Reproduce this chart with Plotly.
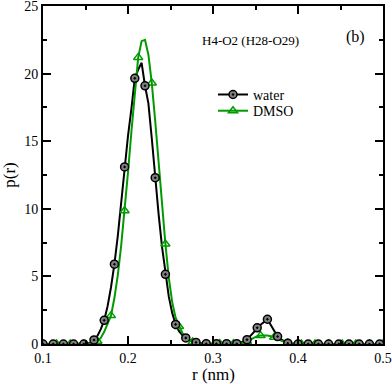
import numpy as np
import plotly.graph_objects as go

# r grid (nm), 0.004 step from 0.1 to 0.5
r = np.round(np.arange(101) * 0.004 + 0.1, 3)

# p(r) for water
water = np.array(
    [0.0] * 13
    + [0.02, 0.1, 0.3, 0.6, 1.1, 1.75, 2.8, 4.2, 5.9, 8.0, 10.5, 13.1,
       15.4, 17.4, 19.65, 20.3, 20.8, 19.1, 17.8, 15.2, 12.3, 9.6, 7.2,
       5.15, 3.5, 2.3, 1.45, 0.95, 0.65, 0.45, 0.3, 0.2, 0.12, 0.08, 0.05]
    + [0.02] * 10
    + [0.08, 0.18, 0.32, 0.6, 0.9, 1.2, 1.42, 1.63, 1.83, 1.4, 0.95, 0.55,
       0.35, 0.18, 0.06, 0.03]
    + [0.0] * 27
)

# p(r) for DMSO
dmso = np.array(
    [0.0] * 15
    + [0.05, 0.2, 0.45, 0.9, 1.45, 2.1, 3.4, 5.1, 7.3, 9.85, 12.7, 15.7,
       18.6, 21.2, 22.4, 22.5, 21.4, 19.3, 16.5, 13.4, 10.3, 7.4, 4.9, 3.1,
       1.95, 1.3, 0.8, 0.5, 0.28, 0.15, 0.08, 0.05, 0.03]
    + [0.02] * 9
    + [0.03, 0.06, 0.1, 0.18, 0.32, 0.48, 0.58, 0.62, 0.63, 0.62, 0.58,
       0.5, 0.38, 0.25, 0.15, 0.08, 0.04]
    + [0.0] * 27
)

x_ticks = [0.1, 0.2, 0.3, 0.4, 0.5]
y_ticks = [0, 5, 10, 15, 20, 25]

WATER_MARK_STEP = 3   # a symbol every 0.012 nm
DMSO_MARK_STEP = 4    # a symbol every 0.016 nm

FONT = "Liberation Serif, Times New Roman, serif"
GREEN = "rgb(0,155,0)"

water_line = dict(color="black", width=2)
water_marker = dict(symbol="circle-dot", size=8, color="#808080",
                    line=dict(color="black", width=1.5))
dmso_line = dict(color=GREEN, width=2)
dmso_marker = dict(symbol="triangle-up-open", size=8, color=GREEN,
                   line=dict(color=GREEN, width=1.5))

fig = go.Figure()

# -------------------------
# curves
# -------------------------
fig.add_trace(go.Scatter(x=r, y=water, mode="lines", line=water_line,
                         showlegend=False, hoverinfo="skip"))
fig.add_trace(go.Scatter(x=r, y=dmso, mode="lines", line=dmso_line,
                         showlegend=False, hoverinfo="skip"))

# -------------------------
# symbols on a sparser grid
# -------------------------
fig.add_trace(go.Scatter(x=r[::DMSO_MARK_STEP], y=dmso[::DMSO_MARK_STEP],
                         mode="markers", marker=dmso_marker, showlegend=False))
fig.add_trace(go.Scatter(x=r[::WATER_MARK_STEP], y=water[::WATER_MARK_STEP],
                         mode="markers", marker=water_marker, showlegend=False))

# legend entries (one legend each, so they can sit close together)
fig.add_trace(go.Scatter(x=[None], y=[None], mode="lines+markers", name="water",
                         line=water_line, marker=water_marker, legend="legend"))
fig.add_trace(go.Scatter(x=[None], y=[None], mode="lines+markers", name="DMSO",
                         line=dmso_line, marker=dmso_marker, legend="legend2"))

axis_common = dict(
    showline=True, linecolor="black", linewidth=2, mirror="allticks",
    ticks="inside", ticklen=8, tickwidth=1.5, tickcolor="black",
    showgrid=False, zeroline=False, automargin=False,
    ticklabeloverflow="allow",
    tickfont=dict(family=FONT, size=14, color="black"),
)

fig.update_xaxes(
    range=[0.1, 0.5], tickvals=x_ticks, ticktext=[str(v) for v in x_ticks],
    minor=dict(ticks="inside", ticklen=4, tickwidth=1.5, tickcolor="black",
               dtick=0.05),
    **axis_common,
)
fig.update_yaxes(
    range=[0, 25], tickvals=y_ticks,
    minor=dict(ticks="inside", ticklen=4, tickwidth=1.5, tickcolor="black",
               dtick=2.5),
    title=dict(text="p(r)", font=dict(family=FONT, size=17, color="black"),
               standoff=6),
    **axis_common,
)

# x axis title placed as text so it can sit a little closer to the ticks
fig.add_annotation(text="r (nm)", xref="paper", yref="paper",
                   x=0.5, y=-0.091, xanchor="center", yanchor="middle",
                   showarrow=False,
                   font=dict(family=FONT, size=17, color="black"))
fig.add_annotation(text="H4-O2 (H28-O29)", xref="paper", yref="paper",
                   x=0.609, y=0.899, xanchor="center", yanchor="middle",
                   showarrow=False,
                   font=dict(family=FONT, size=13, color="black"))
fig.add_annotation(text="(b)", xref="paper", yref="paper",
                   x=0.918, y=0.908, xanchor="center", yanchor="middle",
                   showarrow=False,
                   font=dict(family=FONT, size=16, color="black"))

legend_style = dict(xanchor="left", yanchor="middle", bgcolor="rgba(0,0,0,0)",
                    borderwidth=0,
                    font=dict(family=FONT, size=14, color="black"))

fig.update_layout(
    width=392, height=384,
    margin=dict(l=43, r=9, t=6, b=40),
    paper_bgcolor="white", plot_bgcolor="white",
    legend=dict(x=0.5, y=0.737, **legend_style),
    legend2=dict(x=0.5, y=0.689, **legend_style),
)

fig.write_html("out.html", config={"displayModeBar": False},
               post_script="document.body.style.margin='0';")
